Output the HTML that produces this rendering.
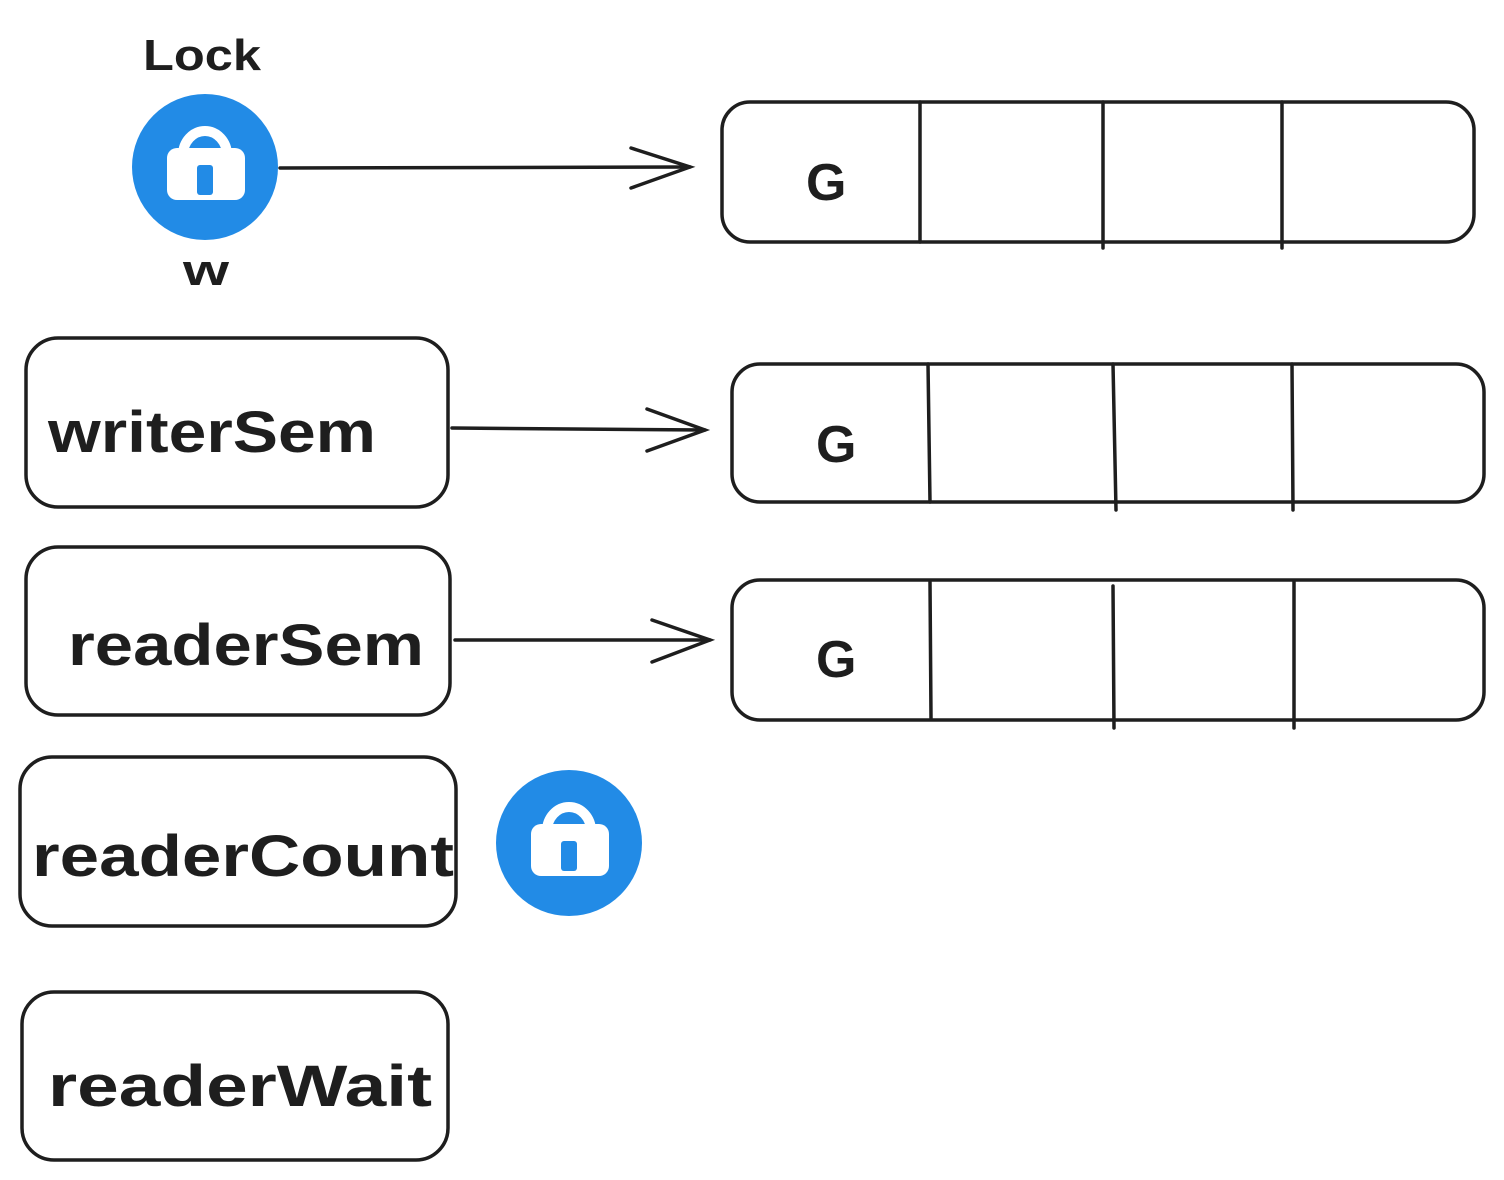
<!DOCTYPE html>
<html><head><meta charset="utf-8"><style>
html,body{margin:0;padding:0;background:#fff;}
svg{display:block}
text{font-family:"Liberation Sans",sans-serif;fill:#1e1e1e;font-weight:bold;}
</style></head><body>
<svg width="1504" height="1180" viewBox="0 0 1504 1180" xmlns="http://www.w3.org/2000/svg">
<defs>
<g id="lock">
  <circle cx="0" cy="0" r="73" fill="#228be6"/>
  <path d="M-22,-4 L-22,-12 A22,24 0 0 1 22,-12 L22,-4" fill="none" stroke="#fff" stroke-width="10"/>
  <rect x="-38" y="-19" width="78" height="52" rx="10" fill="#fff"/>
  <rect x="-8" y="-2" width="16" height="30" rx="3" fill="#228be6"/>
</g>
</defs>
<g fill="none" stroke="#1e1e1e" stroke-width="3.5" stroke-linecap="round">
  <rect x="722" y="102" width="752" height="140" rx="28"/>
  <line x1="920" y1="102" x2="920" y2="242"/>
  <line x1="1103" y1="102" x2="1103" y2="248"/>
  <line x1="1282" y1="102" x2="1282" y2="248"/>
  <rect x="732" y="364" width="752" height="138" rx="28"/>
  <line x1="928" y1="364" x2="930" y2="502"/>
  <line x1="1113" y1="364" x2="1116" y2="510"/>
  <line x1="1292" y1="364" x2="1293" y2="510"/>
  <rect x="732" y="580" width="752" height="140" rx="28"/>
  <line x1="930" y1="582" x2="931" y2="718"/>
  <line x1="1113" y1="586" x2="1114" y2="728"/>
  <line x1="1294" y1="582" x2="1294" y2="728"/>
  <rect x="26" y="338" width="422" height="169" rx="32"/>
  <rect x="26" y="547" width="424" height="168" rx="32"/>
  <rect x="20" y="757" width="436" height="169" rx="32"/>
  <rect x="22" y="992" width="426" height="168" rx="32"/>
  <line x1="280" y1="168" x2="690" y2="167"/>
  <path d="M631,148 L690,167 L631,188"/>
  <line x1="452" y1="428" x2="705" y2="430"/>
  <path d="M647,409 L705,430 L647,451"/>
  <line x1="455" y1="640" x2="710" y2="640"/>
  <path d="M652,620 L710,640 L652,662"/>
</g>
<use href="#lock" x="205" y="167"/>
<use href="#lock" x="569" y="843"/>
<text x="143" y="70" font-size="44" textLength="118" lengthAdjust="spacingAndGlyphs">Lock</text>
<text x="183" y="285" font-size="44" textLength="46" lengthAdjust="spacingAndGlyphs">w</text>
<text x="806" y="200" font-size="52">G</text>
<text x="816" y="462" font-size="52">G</text>
<text x="816" y="677" font-size="52">G</text>
<text x="48" y="452" font-size="58" textLength="328" lengthAdjust="spacingAndGlyphs">writerSem</text>
<text x="68" y="665" font-size="58" textLength="356" lengthAdjust="spacingAndGlyphs">readerSem</text>
<text x="32" y="876" font-size="58" textLength="422" lengthAdjust="spacingAndGlyphs">readerCount</text>
<text x="48" y="1106" font-size="58" textLength="384" lengthAdjust="spacingAndGlyphs">readerWait</text>
</svg>
</body></html>
